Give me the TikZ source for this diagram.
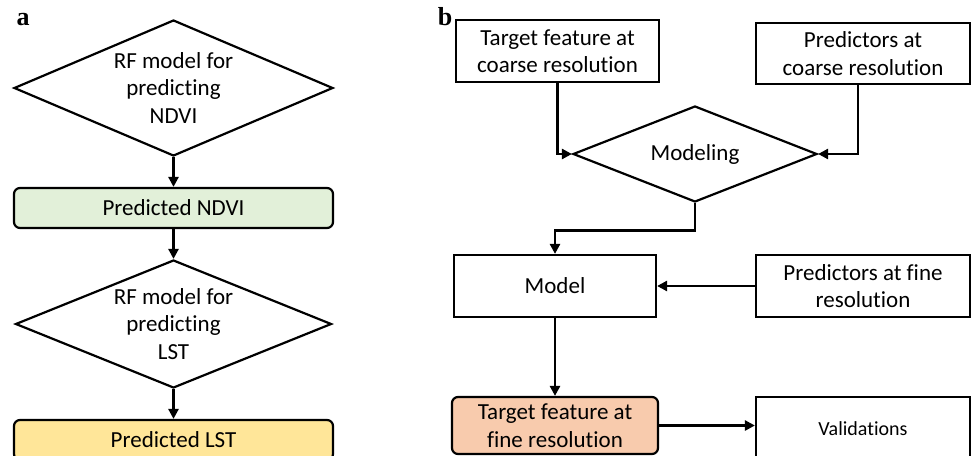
\documentclass[tikz,border=0pt]{standalone}
\usepackage{fontspec}
\setmainfont{Carlito}[RawFeature={-liga;-dlig;-clig}]
\newfontfamily\lblfont{Liberation Serif}
\usetikzlibrary{shapes.geometric,arrows.meta}
\definecolor{gfill}{HTML}{E2F0D9}
\definecolor{yfill}{HTML}{FFE699}
\definecolor{pfill}{HTML}{F8CBAD}
\tikzset{
  base/.style={draw=black, line width=2.2pt, align=center, inner sep=0pt,
    font=\fontsize{23}{27.5}\selectfont},
  rbox/.style={base, rectangle},
  rrbox/.style={base, rectangle, rounded corners=6pt},
  dia/.style={base, diamond},
  arr/.style={line width=2.8pt, -{Triangle[length=10pt,width=10pt]}},
  lbl/.style={font=\lblfont\bfseries\fontsize{26}{30}\selectfont, anchor=base, inner sep=0pt}
}
\begin{document}
\begin{tikzpicture}[x=1pt,y=-1pt]
\clip (0,0) rectangle (971,455);
\fill[white] (0,0) rectangle (971,455);
% panel a
\node[lbl] (la) at (23,25) {a};
\node[dia, minimum width=319pt, minimum height=136pt, aspect=2.35] (d1) at (173.5,88) {RF model for\\predicting\\NDVI};
\node[rrbox, fill=gfill, minimum width=319pt, minimum height=40pt] (n1) at (173.5,208) {Predicted NDVI};
\node[dia, minimum width=316pt, minimum height=128pt, aspect=2.47] (d2) at (173.5,324) {RF model for\\predicting\\LST};
\node[rrbox, fill=yfill, minimum width=319pt, minimum height=40pt] (n2) at (173.5,440) {Predicted LST};
\draw[arr] (d1.south) -- (n1.north);
\draw[arr] (n1.south) -- (d2.north);
\draw[arr] (d2.south) -- (n2.north);
% panel b
\node[lbl] (lb) at (445,25) {b};
\node[rbox, minimum width=203pt, minimum height=62pt] (t1) at (557.5,51) {Target feature at\\coarse resolution};
\node[rbox, minimum width=214pt, minimum height=61pt] (p1) at (863,53.5) {Predictors at\\coarse resolution};
\node[dia, minimum width=244pt, minimum height=96pt, aspect=2.54] (dm) at (695,154) {Modeling};
\node[rbox, minimum width=202pt, minimum height=62pt] (m) at (555,286) {Model};
\node[rbox, minimum width=214pt, minimum height=62pt] (pf) at (863,286) {Predictors at fine\\resolution};
\node[rrbox, fill=pfill, minimum width=206pt, minimum height=57pt] (tf) at (555,425.5) {Target feature at\\fine resolution};
\node[rbox, minimum width=214pt, minimum height=64pt, font=\fontsize{20}{24}\selectfont] (v) at (863,429) {Validations};
\draw[arr] (t1.south) |- (dm.west);
\draw[arr] ([xshift=-5pt]p1.south) |- (dm.east);
\draw[arr] (dm.south) -- ++(0,27) -| (m.north);
\draw[arr] (pf.west) -- (m.east);
\draw[arr] (m.south) -- (tf.north);
\draw[arr] (tf.east) -- (tf.east -| v.west);
\end{tikzpicture}
\end{document}
